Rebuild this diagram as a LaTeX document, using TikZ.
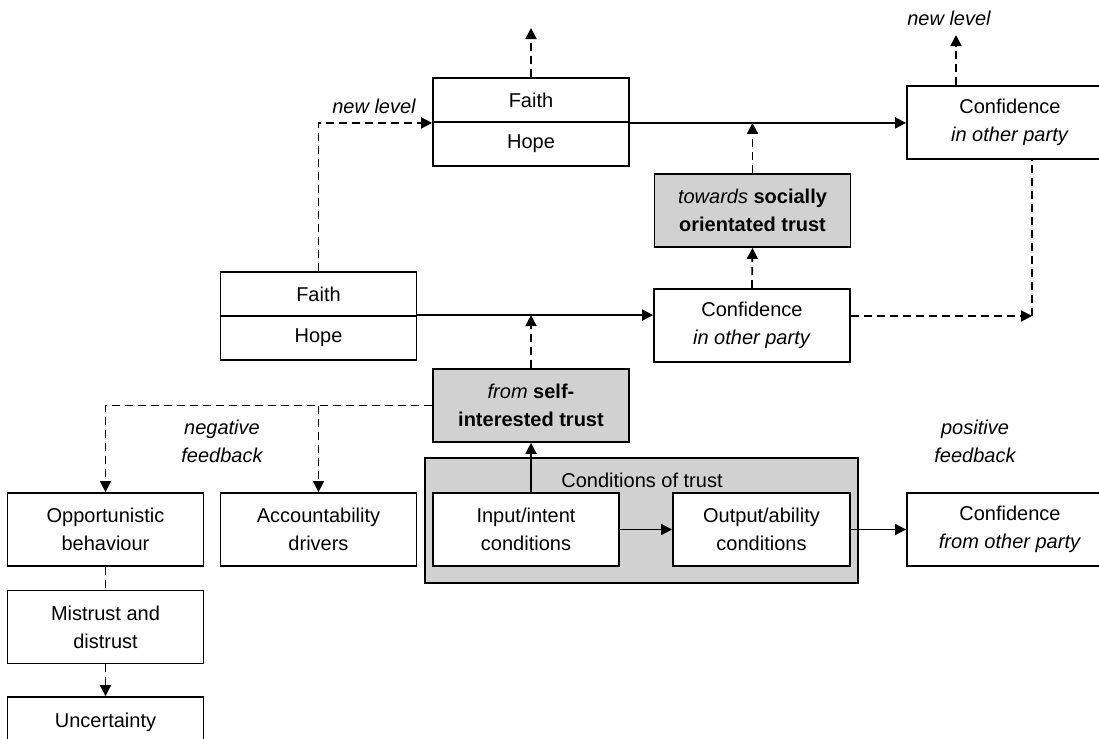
\documentclass[tikz,border=0pt]{standalone}
\usepackage{fontspec}
\setmainfont{Liberation Sans}
\usetikzlibrary{arrows.meta}

\begin{document}
\begin{tikzpicture}[x=0.5pt,y=-0.5pt,
    every node/.style={font=\fontsize{10}{14}\selectfont},
    box/.style={draw,line width=0.9pt,fill=white,minimum width=98pt,minimum height=36.5pt,inner sep=0pt,align=center},
    halfbox/.style={box,minimum height=22pt},
    edgebox/.style={box,minimum width=103pt},
    greybox/.style={box,fill=black!18},
    lbl/.style={align=center,font=\fontsize{10}{14}\selectfont\itshape},
    arr/.style={line width=0.9pt,-{Triangle[length=5.5pt,width=5.5pt]}},
    dasharr/.style={arr,dash pattern=on 4pt off 2.5pt},
    dashline/.style={line width=0.9pt,dash pattern=on 4pt off 2.5pt}]
  \useasboundingbox (0,0) rectangle (1099,739);
  \begin{scope}
    \clip (0,0) rectangle (1099,739);
    % upper level
    \node[halfbox] (faithA) at (531,100) {Faith};
    \node[halfbox] (hopeA) at (531,144) {Hope};
    \node[edgebox] (confA) at (1010,122.5) {Confidence\\\textit{in other party}};
    \node[greybox] (towards) at (752.5,210.5) {\textit{towards} \textbf{socially}\\\textbf{orientated trust}};
    % middle level
    \node[halfbox] (faithB) at (318.5,294) {Faith};
    \node[halfbox] (hopeB) at (318.5,338) {Hope};
    \node[box] (confB) at (752,325.5) {Confidence\\\textit{in other party}};
    \node[greybox] (self) at (531,405.5) {\textit{from} \textbf{self-}\\\textbf{interested trust}};
    % conditions
    \node[draw,line width=0.9pt,fill=black!18,minimum width=216.5pt,minimum height=62.5pt] (cond) at (641.5,520.5) {};
    \node (condlbl) at (642,480) {Conditions of trust};
    \node[box,minimum width=93pt] (input) at (526,529.5) {Input/intent\\conditions};
    \node[box,minimum width=88.5pt] (output) at (761.5,529.5) {Output/ability\\conditions};
    \node[edgebox] (confC) at (1010,529.5) {Confidence\\\textit{from other party}};
    % negative side
    \node[box] (opp) at (105.5,529.5) {Opportunistic\\behaviour};
    \node[box] (acc) at (318.5,529.5) {Accountability\\drivers};
    \node[box] (mis) at (105.5,627) {Mistrust and\\distrust};
    \node[box,minimum height=25pt] (unc) at (105.5,722) {Uncertainty};
  \end{scope}
  \node[lbl] (lvlA) at (374,106) {new level};
  \node[lbl] (lvlC) at (949,18) {new level};
  \node[lbl] (neg) at (222,441) {negative\\feedback};
  \node[lbl] (pos) at (975,441) {positive\\feedback};
  \coordinate (upA) at (531,28);
  \coordinate (upC) at (956,35);
  \coordinate (corner) at (1032,316);
  % connectors
  \draw[dasharr] (faithA.north) -- (upA);
  \draw[dasharr] (confA.north -| upC) -- (upC);
  \draw[arr] (faithA.south east) -- (faithA.south east -| confA.west);
  \draw[dasharr] (towards.north) -- (towards.north |- faithA.south east);
  \draw[dasharr] (confB.north) -- (towards.south);
  \draw[dasharr] (faithB.north) |- (faithA.south west);
  \draw[arr] (hopeB.north east) -- (hopeB.north east -| confB.west);
  \draw[dasharr] (confB.east |- corner) -- (corner);
  \draw[dashline] (corner) -- (confA.south -| corner);
  \draw[dasharr] (self.north) -- (self.north |- hopeB.north east);
  \draw[arr] (self.south |- input.north) -- (self.south);
  \draw[dasharr] (self.west) -| (opp.north);
  \draw[dasharr] (self.west -| acc.north) -- (acc.north);
  \draw[arr] (input) -- (output);
  \draw[arr] (output) -- (confC);
  \draw[dashline] (opp.south) -- (mis.north);
  \draw[dasharr] (mis.south) -- (unc.north);
\end{tikzpicture}
\end{document}
